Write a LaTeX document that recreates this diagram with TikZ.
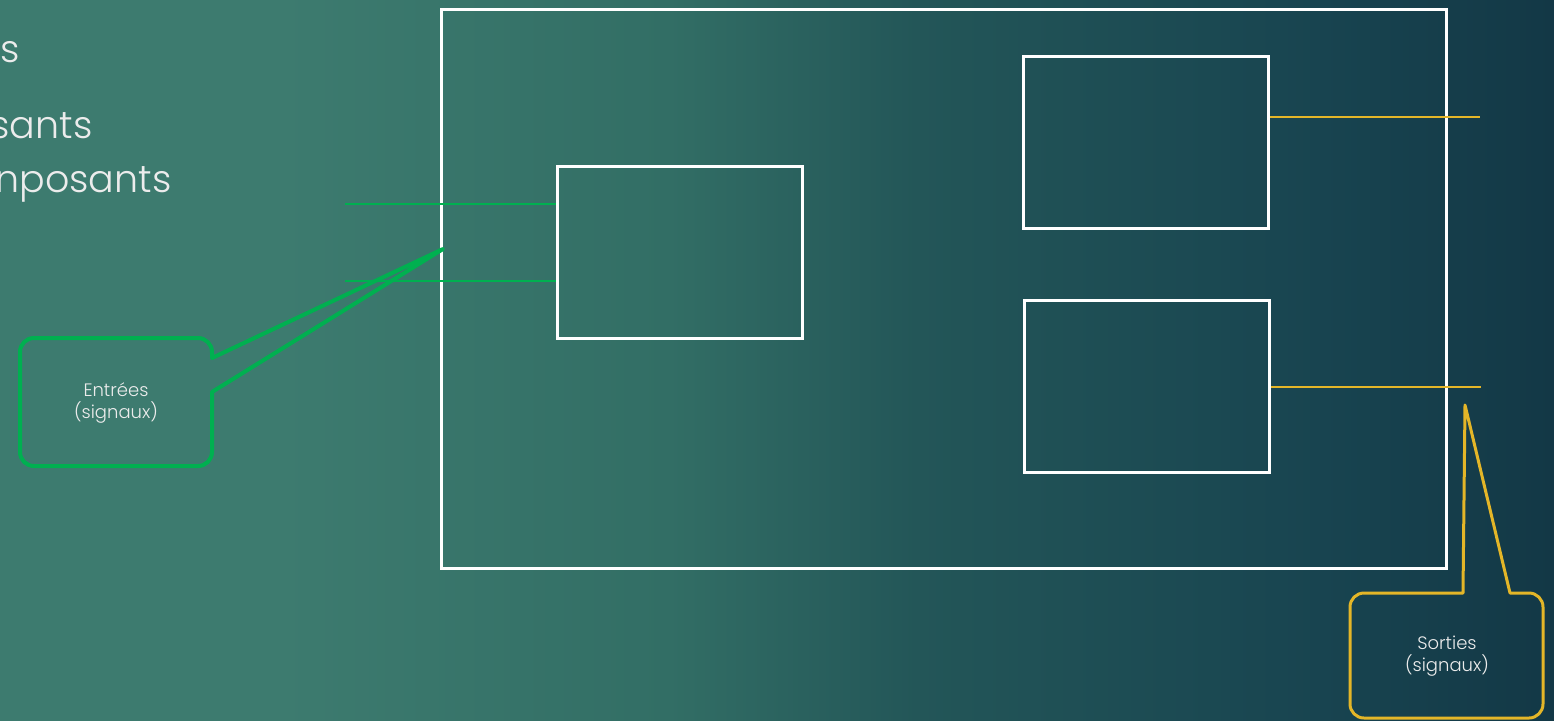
\documentclass[tikz,border=0pt]{standalone}
\usepackage{fontspec}
\setmainfont{Poppins Light}
\usetikzlibrary{positioning,calc}
\definecolor{fondA}{RGB}{61,123,111}
\definecolor{fondB}{RGB}{50,110,101}
\definecolor{fondC}{RGB}{35,86,88}
\definecolor{fondD}{RGB}{24,68,80}
\definecolor{fondE}{RGB}{19,56,70}
\definecolor{vert}{RGB}{0,176,80}
\definecolor{jaune}{RGB}{228,182,40}
\definecolor{texte}{RGB}{236,236,236}
\pgfdeclarehorizontalshading{fond}{100bp}{color(0bp)=(fondA); color(34bp)=(fondA);
  color(46.5bp)=(fondB); color(54.5bp)=(fondC); color(67.5bp)=(fondD);
  color(75bp)=(fondE); color(100bp)=(fondE)}
\tikzset{
  cadre/.style={draw=white,line width=1.5pt,inner sep=0pt},
  bloc/.style={cadre,minimum width=122.5pt,minimum height=86pt},
  filvert/.style={vert,line width=1pt},
  filjaune/.style={jaune,line width=1pt},
  bulle/.style={line width=2pt,line join=round},
  legende/.style={text=texte,align=center,font=\fontsize{9}{11}\selectfont},
  titre/.style={text=texte,anchor=base east,inner sep=0pt,font=\fontsize{19}{23}\selectfont},
}

\begin{document}
\begin{tikzpicture}[x=0.5pt,y=-0.5pt]
  \useasboundingbox (0,0) rectangle (1554,720);
  \shade[shading=fond] (0,0) rectangle (1554,720);
  % texte de la diapositive, coupe a gauche
  \node[titre] (t1) at (20,62) {rs};
  \node[titre] (t2) at (93,138) {sants};
  \node[titre] (t3) at (172,192) {nposants};
  % carte et composants
  \node[cadre,minimum width=502.5pt,minimum height=279.5pt] (carte) at (943.5,288.5) {};
  \node[bloc] (b1) at (679.5,252) {};
  \node[bloc] (b2) at (1146,142) {};
  \node[bloc] (b3) at (1147,386) {};
  % entrees
  \coordinate (e1) at (345,204);
  \coordinate (e2) at (345,281);
  \draw[filvert] (e1) -- (e1 -| b1.west);
  \draw[filvert] (e2) -- (e2 -| b1.west);
  % sorties
  \coordinate (s1) at (1480,117);
  \coordinate (s2) at (1481,387);
  \draw[filjaune] (s1 -| b2.east) -- (s1);
  \draw[filjaune] (s2 -| b3.east) -- (s2);
  % bulles
  \coordinate (pv) at (443,249);
  \coordinate (pj) at (1465,405);
  \draw[bulle,vert] (212,392) [rounded corners=7pt] -- (212,466) -- (20,466)
    -- (20,338) -- (212,338) [sharp corners] -- (212,358) -- (pv) -- cycle;
  \draw[bulle,jaune,line width=1.5pt] (1463,593) -- (pj) -- (1510,593)
    [rounded corners=7pt] -- (1543,593) -- (1543,718) -- (1350,718) -- (1350,593)
    [sharp corners] -- cycle;
  \node[legende] (entrees) at (116,403) {Entrées\\(signaux)};
  \node[legende] (sorties) at (1447,656) {Sorties\\(signaux)};
\end{tikzpicture}
\end{document}
